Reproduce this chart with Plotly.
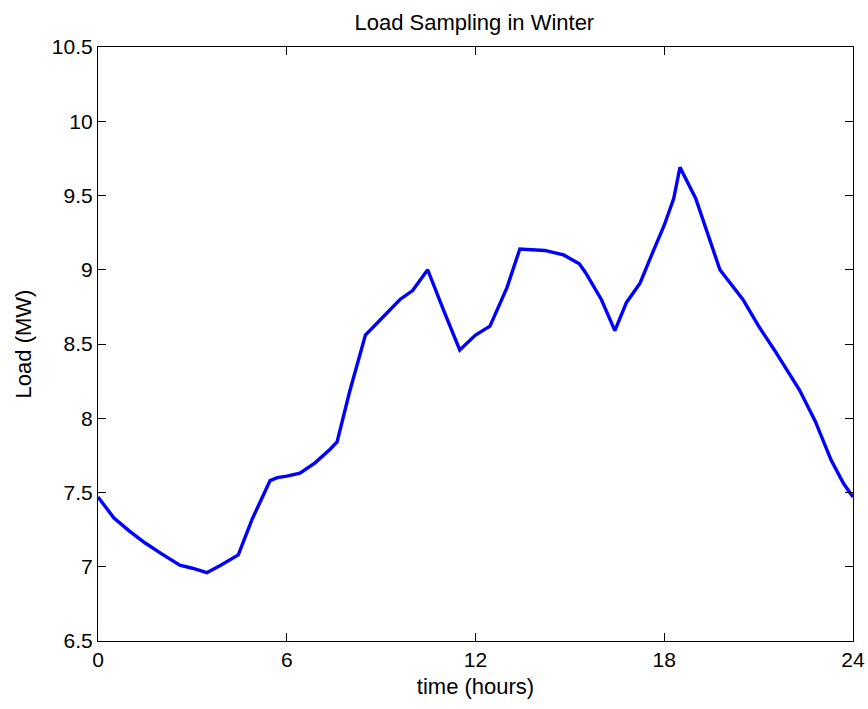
import plotly.graph_objects as go

# time (hours) and load (MW)
hours = [0.0, 0.5, 1.0, 1.5, 2.0, 2.6, 3.0, 3.46, 3.9, 4.46, 4.9, 5.47, 5.7, 6.0, 6.42,
         6.9, 7.37, 7.6, 8.0, 8.5, 8.96, 9.6, 10.0, 10.48, 11.0, 11.5, 12.0, 12.46,
         13.0, 13.41, 14.2, 14.8, 15.3, 15.5, 16.0, 16.43, 16.8, 17.23, 17.6, 18.0,
         18.3, 18.5, 19.0, 19.77, 20.5, 21.0, 21.5, 22.3, 22.8, 23.3, 23.7, 24.0]
load_mw = [7.47, 7.33, 7.24, 7.16, 7.09, 7.01, 6.99, 6.96, 7.01, 7.08, 7.32, 7.58, 7.60,
           7.61, 7.63, 7.70, 7.79, 7.84, 8.18, 8.56, 8.66, 8.80, 8.86, 9.00, 8.72, 8.46,
           8.56, 8.62, 8.88, 9.14, 9.13, 9.10, 9.04, 8.98, 8.80, 8.59, 8.78, 8.91, 9.10,
           9.30, 9.48, 9.69, 9.48, 9.00, 8.80, 8.62, 8.46, 8.19, 7.98, 7.72, 7.56, 7.47]

x_ticks = [0, 6, 12, 18, 24]
y_ticks = [6.5, 7, 7.5, 8, 8.5, 9, 9.5, 10, 10.5]
y_tick_text = ["6.5", "7", "7.5", "8", "8.5", "9", "9.5", "10", "10.5"]

font = "Liberation Sans, Arial, sans-serif"

fig = go.Figure()
fig.add_trace(go.Scatter(x=hours, y=load_mw, mode="lines",
                         line=dict(color="#0000ff", width=3.4), showlegend=False))

axis_common = dict(showline=True, linecolor="black", linewidth=1.2, mirror="ticks",
                   ticks="inside", ticklen=8, tickcolor="black", tickwidth=1.2,
                   showgrid=False, zeroline=False, automargin=False,
                   tickfont=dict(family=font, size=21, color="black"))

fig.update_layout(
    width=868, height=709,
    margin=dict(l=98, r=15, t=47, b=68),
    paper_bgcolor="white", plot_bgcolor="white",
    title=dict(text="Load Sampling in Winter", x=0.5465, xanchor="center",
               y=0.968, yanchor="middle",
               font=dict(family=font, size=22, color="black")),
    xaxis=dict(range=[0, 24], tickvals=x_ticks, ticktext=[str(v) for v in x_ticks],
               title=dict(text="time (hours)", standoff=8,
                          font=dict(family=font, size=22, color="black")),
               **axis_common),
    yaxis=dict(range=[6.5, 10.5], tickvals=y_ticks, ticktext=y_tick_text,
               title=dict(text="Load (MW)", standoff=14,
                          font=dict(family=font, size=22, color="black")),
               **axis_common),
)

fig.write_html("out.html")
